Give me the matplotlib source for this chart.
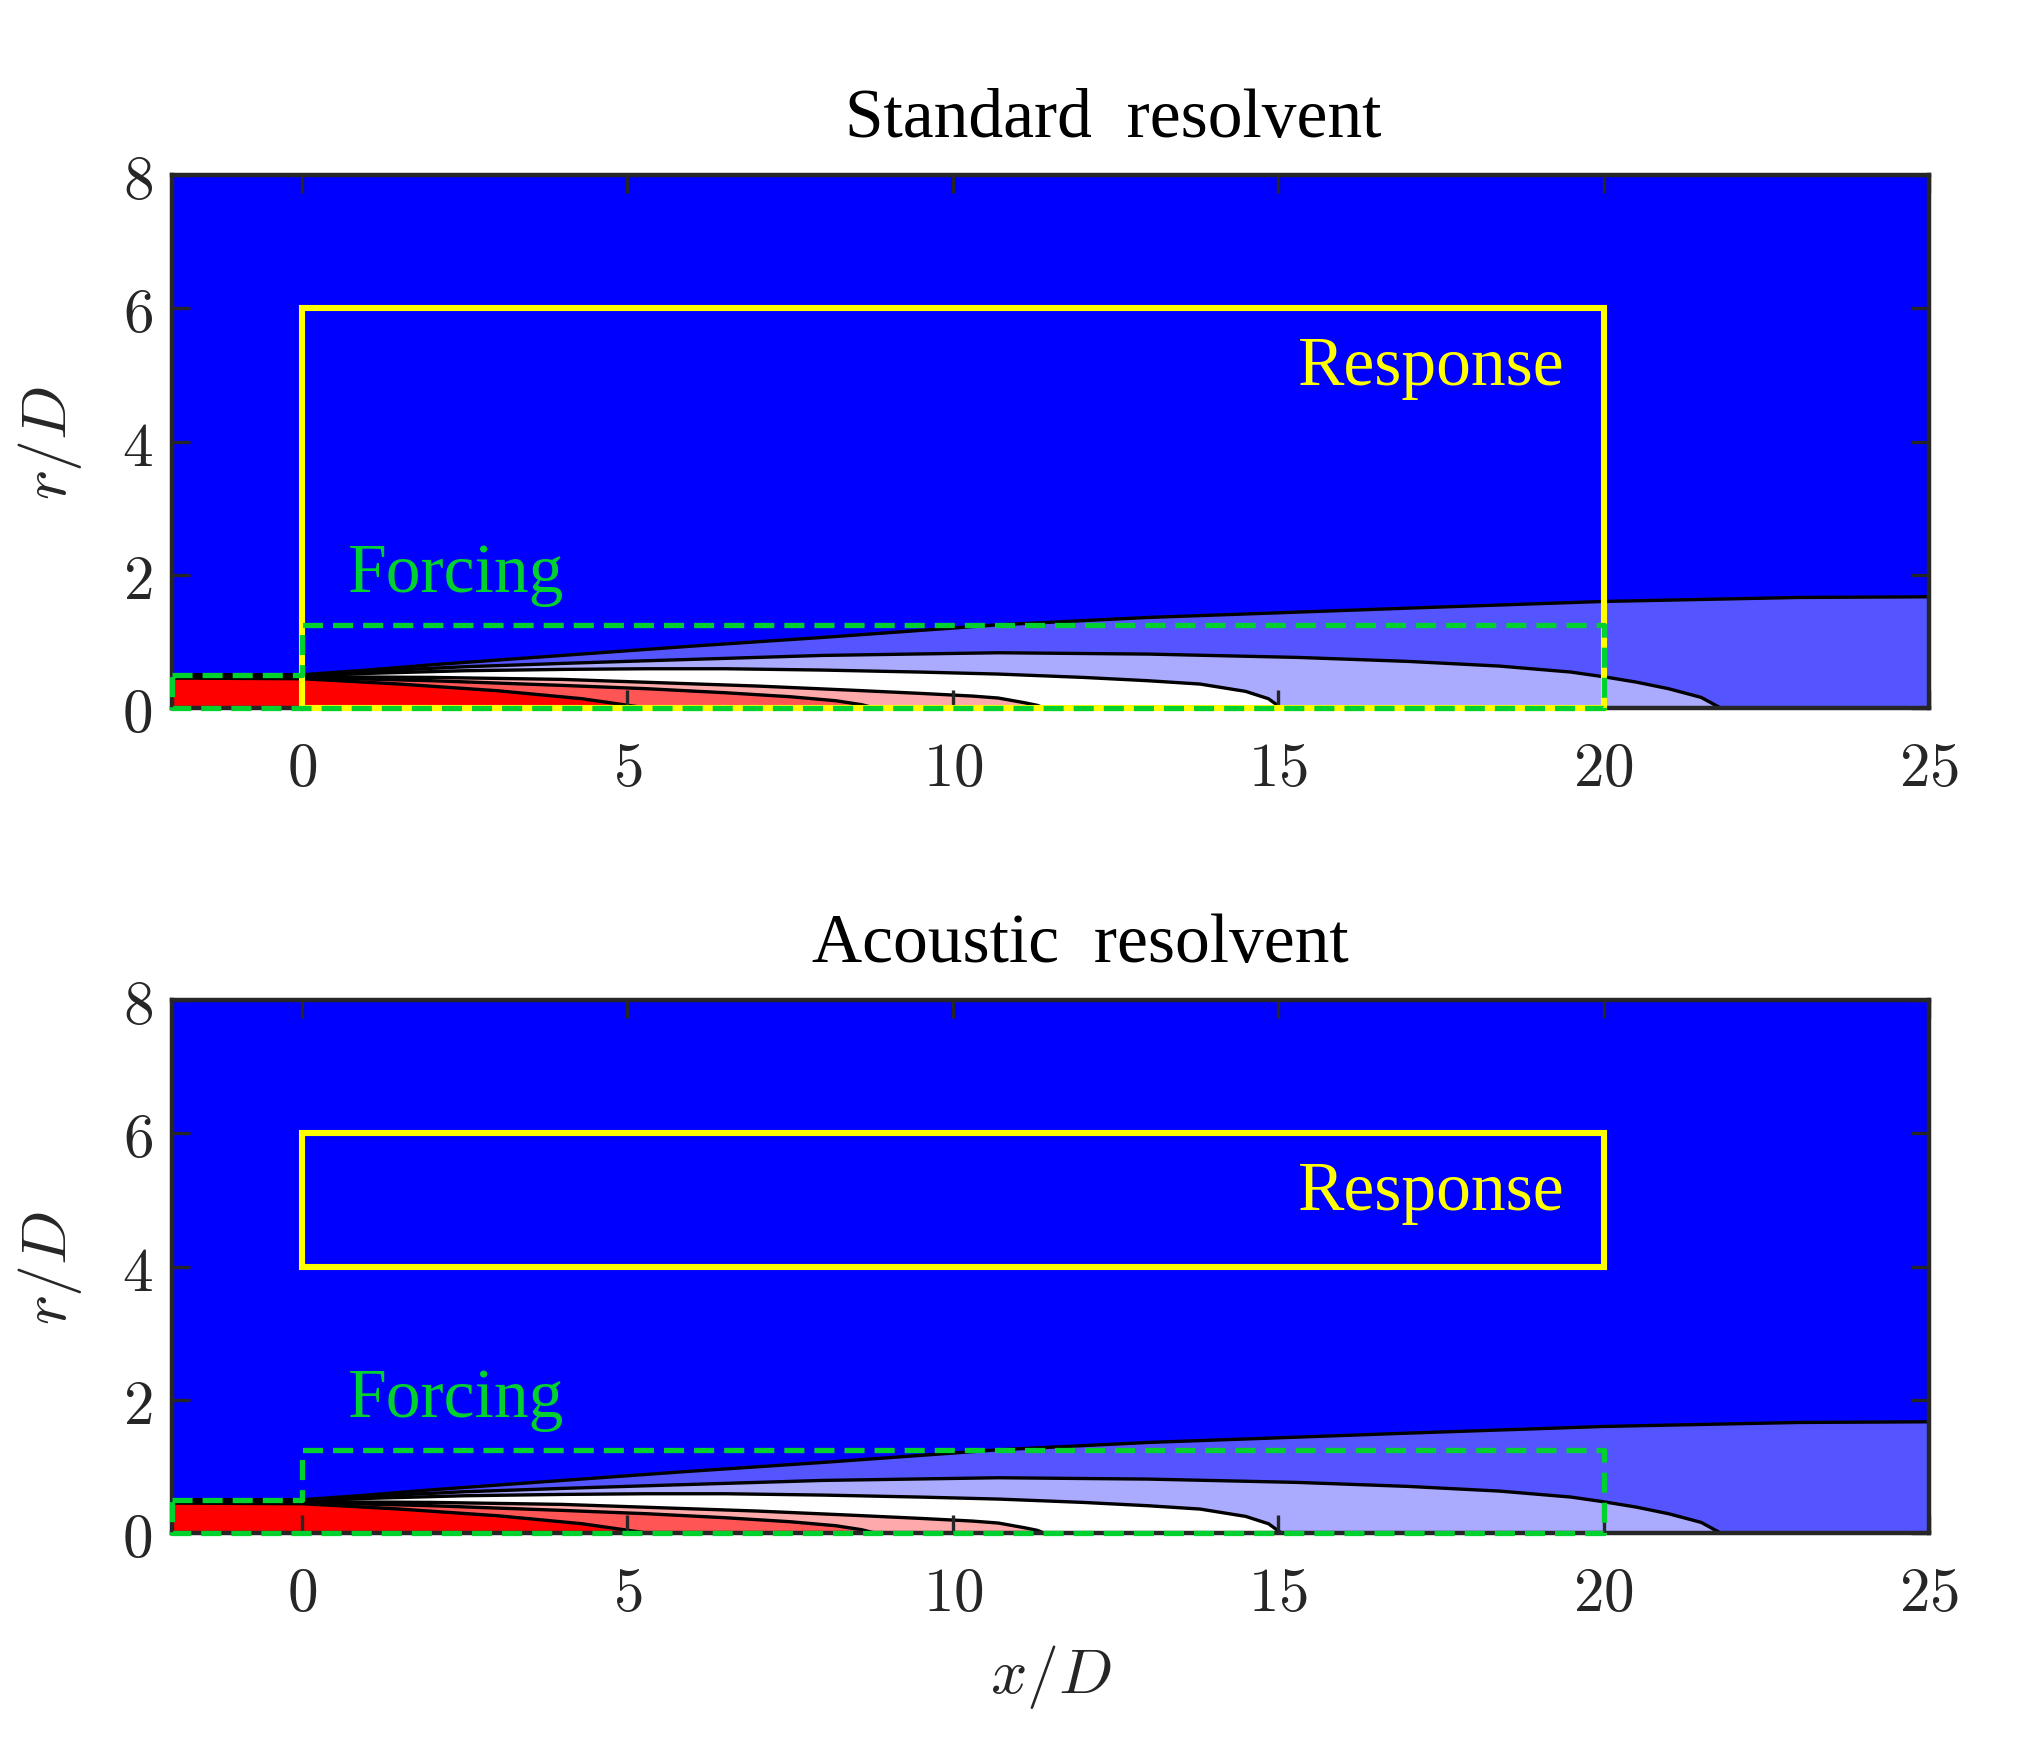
import numpy as np
import matplotlib
matplotlib.use('Agg')
import matplotlib.pyplot as plt
from matplotlib.patches import Rectangle
from matplotlib.ticker import FuncFormatter

plt.rcParams['mathtext.fontset'] = 'cm'

# Границы контуров средней скорости струи (x/D, r/D)
x_c1 = [-2, 0, 1, 2, 3, 4, 6, 8, 10.7, 13, 15.3, 17, 20, 23, 25]
r_c1 = [0.5, 0.5, 0.57, 0.65, 0.72, 0.79, 0.93, 1.06, 1.25, 1.36, 1.44, 1.5, 1.6, 1.66, 1.67]

x_c2 = [-2, 0, 1, 2.5, 4, 5.3, 8, 10.7, 13, 15.3, 17, 18.4, 19.5, 20, 20.5, 21, 21.5, 21.8]
r_c2 = [0.49, 0.49, 0.55, 0.62, 0.67, 0.71, 0.79, 0.83, 0.81, 0.76, 0.7, 0.63, 0.54, 0.47, 0.39, 0.29, 0.16, 0]

x_c3 = [-2, 0, 1, 2.5, 4, 5.3, 6.5, 8, 9.5, 10.7, 12, 13, 13.8, 14.5, 14.85, 15.05]
r_c3 = [0.48, 0.48, 0.52, 0.56, 0.58, 0.59, 0.59, 0.57, 0.54, 0.51, 0.46, 0.41, 0.36, 0.25, 0.14, 0]

x_c4 = [-2, 0, 2, 4, 5.5, 7, 8.4, 9.5, 10.3, 10.7, 11.1, 11.3, 11.4]
r_c4 = [0.47, 0.47, 0.46, 0.43, 0.38, 0.33, 0.27, 0.22, 0.18, 0.15, 0.08, 0.04, 0]

x_c5 = [-2, 0, 2, 4, 5.3, 6.5, 7.5, 8.2, 8.6, 8.8]
r_c5 = [0.46, 0.46, 0.41, 0.34, 0.29, 0.23, 0.17, 0.11, 0.05, 0]

x_c6 = [-2, 0, 1.5, 3, 4.3, 5.3]
r_c6 = [0.45, 0.44, 0.36, 0.26, 0.14, 0]

boundaries = [(x_c1, r_c1), (x_c2, r_c2), (x_c3, r_c3), (x_c4, r_c4), (x_c5, r_c5), (x_c6, r_c6)]
band_colors = ['#5555ff', '#aaaaff', '#ffffff', '#ffaaaa', '#ff5555', '#ff0000']

# Области forcing / response
forcing_x = [-2, 0, 0, 20, 20, -2, -2]
forcing_r = [0.5, 0.5, 1.25, 1.25, 0, 0, 0.5]
response_std = (0, 0, 20, 6)   # x0, r0, ширина, высота
response_ac = (0, 4, 20, 2)

titles = ['Standard  resolvent', 'Acoustic  resolvent']
title_x = [0.5356, 0.517]

x_ticks = [0, 5, 10, 15, 20, 25]
r_ticks = [0, 2, 4, 6, 8]

green = '#00d12f'
yellow = '#ffff00'
axcol = '#262626'


def draw_panel(ax, title, tx, resp):
    ax.set_facecolor('#0000ff')
    for (xb, rb), c in zip(boundaries, band_colors):
        ax.fill_between(xb, 0, rb, color=c, lw=0, zorder=1)
    for xb, rb in boundaries:
        ax.plot(xb, rb, color='k', lw=2.4, zorder=1.5, solid_joinstyle='round')

    ax.add_patch(Rectangle(resp[:2], resp[2], resp[3], fill=False, ec=yellow,
                           lw=4.4, zorder=3, clip_on=False))
    ax.plot(forcing_x, forcing_r, color=green, lw=3.8, dashes=(3.8, 1.9),
            clip_on=False, zorder=4)

    ax.text(19.4, 4.87, 'Response', color=yellow, fontsize=50,
            family='Liberation Serif', ha='right', va='baseline', zorder=5)
    ax.text(0.7, 1.76, 'Forcing', color=green, fontsize=50,
            family='Liberation Serif', ha='left', va='baseline', zorder=5)
    ax.text(tx, 1.074, title, transform=ax.transAxes, fontsize=50,
            family='Liberation Serif', ha='center', va='baseline')

    ax.set_xlim(-2, 25)
    ax.set_ylim(0, 8)
    ax.set_xticks(x_ticks)
    ax.set_yticks(r_ticks)
    fmt = FuncFormatter(lambda v, p: f'${v:g}$')
    ax.xaxis.set_major_formatter(fmt)
    ax.yaxis.set_major_formatter(fmt)
    ax.tick_params(direction='in', top=True, right=True, length=13, width=2.4,
                   color=axcol, labelsize=44, labelcolor=axcol)
    ax.tick_params(axis='x', pad=22)
    ax.tick_params(axis='y', pad=14)
    for s in ax.spines.values():
        s.set_color(axcol)
        s.set_linewidth(3.2)
    ax.set_ylabel(r'$r/D$', fontsize=46, color=axcol)
    ax.yaxis.set_label_coords(-0.05, 0.5)


fig = plt.figure(figsize=(20.33, 17.49), dpi=100)
ax1 = fig.add_axes([0.0846, 0.5946, 0.8642, 0.3047])
ax2 = fig.add_axes([0.0846, 0.1229, 0.8642, 0.3047])

draw_panel(ax1, titles[0], title_x[0], response_std)
draw_panel(ax2, titles[1], title_x[1], response_ac)

ax2.set_xlabel(r'$x/D$', fontsize=46, color=axcol)
ax2.xaxis.set_label_coords(0.5, -0.204)

fig.savefig('out.png', dpi=100)
